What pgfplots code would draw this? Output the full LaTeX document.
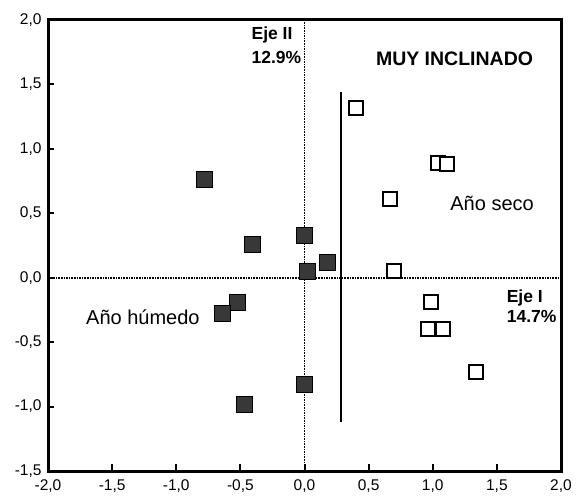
\documentclass[border=0pt]{standalone}
\usepackage{pgfplots}
\pgfplotsset{compat=1.18}
\usepackage{fontspec}
\setmainfont{Liberation Sans}
\begin{document}
\begin{tikzpicture}
\useasboundingbox (-48pt,-24pt) rectangle (535pt,471pt);
\begin{axis}[
  name=main,
  at={(0,0)}, anchor=south west,
  scale only axis, width=513pt, height=451pt,
  xmin=-2, xmax=2, ymin=-1.5, ymax=2,
  xtick={-2,-1.5,-1,-0.5,0,0.5,1,1.5,2},
  ytick={-1.5,-1,-0.5,0,0.5,1,1.5,2},
  tick align=inside, tick pos=left, major tick length=6pt,
  axis line style={line width=3pt, black},
  major tick style={line width=2pt, black},
  /pgf/number format/fixed,
  /pgf/number format/fixed zerofill,
  /pgf/number format/precision=1,
  /pgf/number format/use comma,
  /pgf/number format/assume math mode=true,
  ticklabel style={font=\fontsize{15.5}{18}\selectfont},
  xticklabel style={yshift=-5pt},
  yticklabel style={xshift=-3pt},
  clip=false,
]
% wet year (filled squares)
\addplot[only marks, mark=square*, mark size=8pt,
  mark options={fill=black!78, draw=black, line width=0.8pt}] coordinates {
  (-0.78,0.76) (-0.41,0.26) (0,0.33) (0.02,0.05) (0.18,0.12)
  (-0.52,-0.19) (-0.64,-0.28) (-0.47,-0.98) (0,-0.83)
};
% dry year (open squares)
\addplot[only marks, mark=square*, mark size=7pt,
  mark options={fill=white, draw=black, line width=2pt}] coordinates {
  (0.40,1.32) (1.04,0.89) (1.11,0.88) (0.67,0.61) (0.70,0.05)
  (0.99,-0.19) (0.96,-0.40) (1.08,-0.40) (1.34,-0.73)
};
% reference axes of the ordination
\addplot[black, line width=1.6pt, densely dotted] coordinates {(-2,0) (2,0)};
\addplot[black, line width=1.6pt, densely dotted] coordinates {(0,-1.5) (0,2)};
% dividing line between years
\addplot[black, line width=2.6pt] coordinates {(0.285,-1.12) (0.285,1.44)};

\node[anchor=base west, font=\bfseries\fontsize{17.5}{20}\selectfont] at (axis cs:-0.44,1.845) {Eje II};
\node[anchor=base west, font=\bfseries\fontsize{17.5}{20}\selectfont] at (axis cs:-0.44,1.665) {12.9\%};
\node[anchor=base west, font=\bfseries\fontsize{17.5}{20}\selectfont] at (axis cs:1.55,-0.19) {Eje I};
\node[anchor=base west, font=\bfseries\fontsize{17.5}{20}\selectfont] at (axis cs:1.55,-0.35) {14.7\%};
\node[anchor=base west, font=\bfseries\fontsize{19.5}{22}\selectfont] at (axis cs:0.53,1.65) {MUY INCLINADO};
\node[anchor=base west, font=\fontsize{20}{24}\selectfont] at (axis cs:1.11,0.525) {Año seco};
\node[anchor=base west, font=\fontsize{20}{24}\selectfont] at (axis cs:-1.73,-0.36) {Año húmedo};
\end{axis}
% heavy frame round the plotting area (axis box spans 513pt x 451pt from the origin)
\draw[black, line width=3pt] (0pt,0pt) rectangle (513pt,451pt);
% inward ticks: 128.25pt per x unit, 128.857pt per y unit
\foreach \xt in {64.125,128.25,192.375,256.5,320.625,384.75,448.875}
  \draw[black, line width=2pt] (\xt pt,0pt) -- (\xt pt,7pt);
\foreach \yt in {64.43,128.86,193.29,257.71,322.14,386.57}
  \draw[black, line width=2pt] (0pt,\yt pt) -- (6pt,\yt pt);
\end{tikzpicture}
\end{document}
